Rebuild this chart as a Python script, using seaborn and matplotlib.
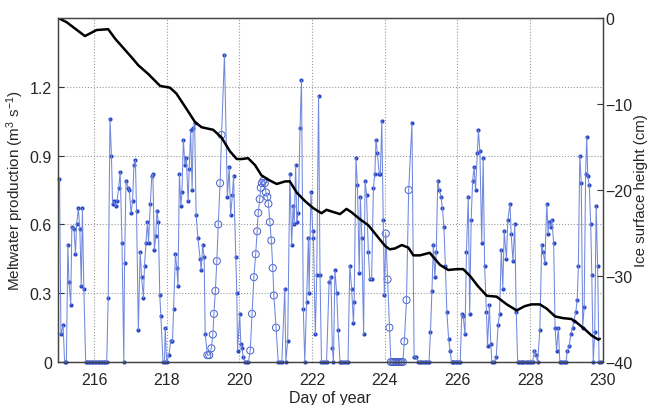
import pandas as pd
import matplotlib
matplotlib.use("Agg")
import matplotlib.pyplot as plt
import seaborn as sns

# meltwater production (m3 s-1)
melt_day = [
    215.05, 215.09, 215.15, 215.19, 215.24, 215.28, 215.31, 215.36, 215.39, 215.45,
    215.49, 215.52, 215.57, 215.61, 215.65, 215.68, 215.72, 215.77, 215.81, 215.85,
    215.90, 215.94, 215.98, 216.02, 216.06, 216.10, 216.15, 216.19, 216.23, 216.27,
    216.31, 216.35, 216.39, 216.44, 216.48, 216.51, 216.55, 216.60, 216.63, 216.68,
    216.72, 216.77, 216.82, 216.84, 216.88, 216.94, 216.97, 217.02, 217.06, 217.10,
    217.14, 217.17, 217.22, 217.27, 217.31, 217.36, 217.39, 217.43, 217.47, 217.50,
    217.55, 217.59, 217.62, 217.66, 217.70, 217.73, 217.77, 217.81, 217.84, 217.90,
    217.94, 217.96, 218.00, 218.06, 218.11, 218.16, 218.19, 218.24, 218.28, 218.31,
    218.35, 218.39, 218.42, 218.46, 218.50, 218.54, 218.59, 218.62, 218.66, 218.70,
    218.73, 218.77, 218.81, 218.86, 218.92, 218.95, 218.99, 219.03, 219.06,
    219.12, 219.17, 219.23, 219.27, 219.30, 219.34, 219.38, 219.42, 219.47, 219.51,
    219.59, 219.67, 219.72, 219.76, 219.81, 219.84, 219.90, 219.93, 219.95, 220.01,
    220.04, 220.07, 220.11, 220.16, 220.20, 220.25,
    220.30, 220.35, 220.40, 220.45, 220.49, 220.52, 220.56, 220.59, 220.62, 220.66,
    220.70, 220.73, 220.77, 220.80, 220.84, 220.88, 220.92, 220.95, 221.01,
    221.07, 221.12, 221.17, 221.25, 221.28, 221.33, 221.39, 221.44, 221.48, 221.51,
    221.55, 221.58, 221.62, 221.67, 221.71, 221.76, 221.80, 221.85, 221.90, 221.92,
    221.97, 222.02, 222.04, 222.09, 222.13, 222.18, 222.22, 222.26, 222.31, 222.35,
    222.40, 222.47, 222.52, 222.56, 222.59, 222.63, 222.68, 222.72, 222.77, 222.81,
    222.86, 222.90, 222.95, 222.99, 223.04, 223.09, 223.14, 223.16, 223.21, 223.25,
    223.30, 223.33, 223.37, 223.42, 223.46, 223.50, 223.55, 223.59, 223.64, 223.69,
    223.73, 223.76, 223.80, 223.85, 223.88, 223.92, 223.96, 223.99,
    224.03, 224.08, 224.13, 224.17, 224.21, 224.25, 224.29, 224.33, 224.38, 224.42,
    224.46, 224.50, 224.54, 224.60, 224.66,
    224.75, 224.81, 224.87, 224.93, 224.97, 225.01, 225.05, 225.10, 225.14, 225.18,
    225.22, 225.26, 225.30, 225.34, 225.38, 225.42, 225.46, 225.50, 225.55, 225.59,
    225.63, 225.67, 225.71, 225.76, 225.80, 225.84, 225.88, 225.92, 225.96, 226.00,
    226.04, 226.08, 226.12, 226.16, 226.21, 226.25, 226.30, 226.34, 226.38, 226.42,
    226.46, 226.50, 226.55, 226.58, 226.62, 226.67, 226.71, 226.75, 226.80, 226.83,
    226.88, 226.92, 226.95, 227.01, 227.07, 227.12, 227.16, 227.21, 227.25, 227.29,
    227.35, 227.39, 227.45, 227.48, 227.53, 227.58, 227.62, 227.66, 227.70, 227.74,
    227.78, 227.82, 227.87, 227.91, 227.95, 227.99, 228.03, 228.07, 228.12, 228.16,
    228.21, 228.27, 228.32, 228.36, 228.41, 228.46, 228.50, 228.52, 228.57, 228.60,
    228.65, 228.69, 228.73, 228.78, 228.82, 228.86, 228.91, 228.95, 228.99, 229.03,
    229.08, 229.12, 229.17, 229.21, 229.26, 229.30, 229.33, 229.37, 229.41, 229.45,
    229.49, 229.53, 229.56, 229.59, 229.63, 229.67, 229.70, 229.74, 229.78, 229.82,
    229.86, 229.90, 229.95,
]
melt_val = [
    0.80, 0.12, 0.16, 0.00, 0.00, 0.51, 0.35, 0.25, 0.59, 0.58,
    0.47, 0.60, 0.67, 0.58, 0.33, 0.67, 0.32, 0.00, 0.00, 0.00,
    0.00, 0.00, 0.00, 0.00, 0.00, 0.00, 0.00, 0.00, 0.00, 0.00,
    0.00, 0.00, 0.28, 1.06, 0.90, 0.69, 0.70, 0.68, 0.70, 0.76,
    0.83, 0.52, 0.00, 0.43, 0.79, 0.76, 0.75, 0.65, 0.70, 0.86,
    0.88, 0.66, 0.14, 0.48, 0.37, 0.28, 0.42, 0.52, 0.61, 0.52,
    0.69, 0.81, 0.82, 0.49, 0.55, 0.66, 0.61, 0.29, 0.20, 0.00,
    0.00, 0.15, 0.00, 0.03, 0.09, 0.09, 0.23, 0.47, 0.41, 0.33,
    0.82, 0.68, 0.74, 0.97, 0.86, 0.89, 0.70, 0.84, 1.01, 0.75,
    1.02, 1.04, 0.64, 0.54, 0.45, 0.40, 0.51, 0.46, 0.12,
    0.03, 0.03, 0.06, 0.12, 0.21, 0.31, 0.44, 0.60, 0.78, 0.99,
    1.34, 0.72, 0.85, 0.64, 0.73, 0.81, 0.46, 0.30, 0.05, 0.21,
    0.08, 0.06, 0.02, 0.00, 0.00, 0.00,
    0.05, 0.21, 0.37, 0.47, 0.57, 0.65, 0.71, 0.76, 0.78, 0.79,
    0.78, 0.74, 0.72, 0.69, 0.61, 0.53, 0.41, 0.29, 0.15,
    0.00, 0.00, 0.00, 0.32, 0.00, 0.09, 0.82, 0.51, 0.68, 0.60,
    0.86, 0.61, 0.65, 1.02, 1.23, 0.23, 0.00, 0.26, 0.54, 0.30,
    0.74, 0.57, 0.54, 0.12, 0.38, 1.16, 0.38, 0.00, 0.00, 0.00,
    0.00, 0.35, 0.37, 0.06, 0.00, 0.40, 0.30, 0.14, 0.00, 0.00,
    0.00, 0.00, 0.00, 0.00, 0.42, 0.32, 0.17, 0.26, 0.89, 0.77,
    0.39, 0.72, 0.54, 0.12, 0.79, 0.73, 0.48, 0.36, 0.36, 0.76,
    0.82, 0.97, 0.91, 0.82, 0.82, 1.05, 0.62, 0.29,
    0.56, 0.36, 0.15, 0.00, 0.00, 0.00, 0.00, 0.00, 0.00, 0.00,
    0.00, 0.00, 0.09, 0.27, 0.75,
    1.04, 0.02, 0.02, 0.00, 0.00, 0.00, 0.00, 0.00, 0.00, 0.00,
    0.00, 0.13, 0.31, 0.51, 0.37, 0.48, 0.79, 0.75, 0.72, 0.67,
    0.59, 0.42, 0.22, 0.10, 0.05, 0.00, 0.00, 0.00, 0.00, 0.00,
    0.00, 0.00, 0.21, 0.20, 0.12, 0.48, 0.72, 0.21, 0.62, 0.79,
    0.85, 0.75, 0.91, 1.01, 0.92, 0.52, 0.89, 0.42, 0.22, 0.07,
    0.25, 0.08, 0.00, 0.00, 0.02, 0.16, 0.21, 0.49, 0.32, 0.57,
    0.45, 0.62, 0.69, 0.56, 0.44, 0.60, 0.22, 0.00, 0.00, 0.00,
    0.00, 0.00, 0.00, 0.00, 0.00, 0.00, 0.00, 0.00, 0.05, 0.03,
    0.00, 0.14, 0.51, 0.48, 0.43, 0.69, 0.56, 0.61, 0.59, 0.62,
    0.52, 0.15, 0.05, 0.15, 0.00, 0.00, 0.00, 0.00, 0.00, 0.05,
    0.07, 0.12, 0.15, 0.18, 0.22, 0.27, 0.42, 0.90, 0.78, 0.15,
    0.24, 0.82, 0.98, 0.81, 0.77, 0.60, 0.38, 0.00, 0.13, 0.68,
    0.42, 0.00, 0.00,
]
# stretches drawn with open circles
open_spans = [(219.10, 219.55), (220.28, 221.03), (224.01, 224.70)]

# ice surface height (cm)
ice_day = [
    215.02, 215.25, 215.75, 216.07, 216.39, 216.58, 216.81, 217.04, 217.22, 217.49,
    217.82, 218.09, 218.27, 218.55, 218.78, 218.96, 219.28, 219.51, 219.74, 219.93,
    220.06, 220.24, 220.43, 220.61, 220.84, 221.03, 221.26, 221.39, 221.58, 221.81,
    222.03, 222.26, 222.40, 222.54, 222.77, 222.95, 223.09, 223.32, 223.55, 223.78,
    224.01, 224.14, 224.28, 224.47, 224.65, 224.79, 224.97, 225.24, 225.34, 225.52,
    225.75, 225.98, 226.16, 226.35, 226.57, 226.81, 227.08, 227.36, 227.63, 227.86,
    228.04, 228.27, 228.46, 228.69, 228.91, 229.14, 229.28, 229.51, 229.69, 229.88,
    229.92,
]
ice_height = [
    0.0, -0.5, -2.1, -1.4, -1.3, -2.4, -3.5, -4.6, -5.5, -6.5,
    -7.9, -8.1, -8.8, -10.6, -12.1, -12.7, -13.0, -13.9, -15.5, -16.4,
    -16.4, -16.3, -17.1, -18.3, -18.9, -19.3, -19.0, -19.0, -20.3, -21.3,
    -22.1, -22.7, -22.3, -22.5, -22.8, -22.2, -22.6, -23.4, -24.1, -25.3,
    -26.5, -26.9, -26.8, -26.4, -26.7, -27.6, -27.6, -27.3, -27.8, -28.7,
    -29.3, -29.2, -29.2, -30.0, -31.2, -32.3, -32.4, -33.3, -34.0, -33.5,
    -33.3, -33.3, -33.8, -34.7, -34.9, -35.0, -35.4, -36.2, -36.9, -37.4,
    -37.3,
]

sns.set_style("white")
plt.rcParams['font.family'] = ['Liberation Sans', 'DejaVu Sans']
plt.rcParams['mathtext.default'] = 'regular'

melt = pd.DataFrame({'day': melt_day, 'melt': melt_val})
melt['modelled'] = [any(a <= d <= b for a, b in open_spans) for d in melt_day]
ice = pd.DataFrame({'day': ice_day, 'height': ice_height})

fig = plt.figure(figsize=(6.51, 4.06), dpi=100)
ax = fig.add_axes([0.0886, 0.1059, 0.8372, 0.8473])

sns.lineplot(data=melt, x='day', y='melt', estimator=None, sort=False,
             color='#7088de', lw=0.75, ax=ax)
sns.scatterplot(data=melt[~melt.modelled], x='day', y='melt', color='#2846c4',
                s=9, linewidth=0, clip_on=False, ax=ax)
sns.scatterplot(data=melt[melt.modelled], x='day', y='melt', fc='none', ec='#4760cc',
                s=26, linewidth=0.7, clip_on=False, ax=ax)

ax.set_xlim(215, 230)
ax.set_ylim(0, 1.5)
ax.set_xticks(range(216, 231, 2))
ax.set_yticks([0, 0.3, 0.6, 0.9, 1.2])
ax.set_yticklabels(['0', '0.3', '0.6', '0.9', '1.2'])
ax.grid(True, ls=':', color='#999999', lw=0.8)
ax.set_axisbelow(True)
ax.set_xlabel('Day of year', fontsize=11.5, labelpad=2)
ax.set_ylabel('Meltwater production (m$^{3}$ s$^{-1}$)', fontsize=11, labelpad=3)
ax.tick_params(direction='in', length=4, labelsize=11.5, pad=4, color='#333333')
ax.tick_params(axis='x', pad=7)

ax2 = ax.twinx()
sns.lineplot(data=ice, x='day', y='height', estimator=None, sort=False,
             color='black', lw=1.8, ax=ax2)
ax2.set_ylim(-40, 0)
ax2.set_yticks([-40, -30, -20, -10, 0])
ax2.set_ylabel('Ice surface height (cm)', fontsize=10.8, labelpad=1)
ax2.tick_params(direction='in', length=4, labelsize=11.5, pad=2, color='#333333')
for a in (ax, ax2):
    for s in a.spines.values():
        s.set_color('#444444')
        s.set_linewidth(0.9)

plt.savefig('out.png', dpi=100)
